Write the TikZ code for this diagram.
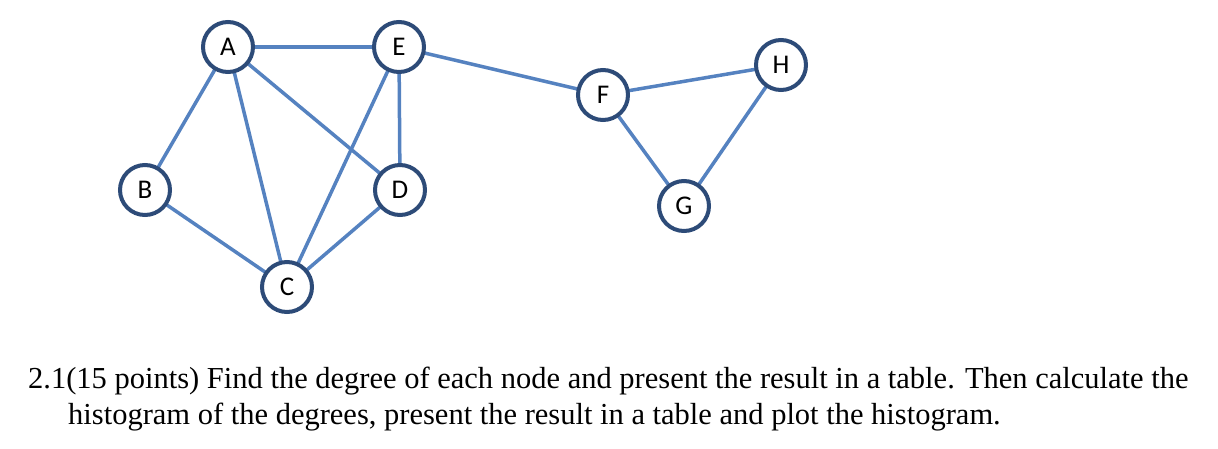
\documentclass[tikz,border=0pt]{standalone}
\usepackage{fontspec}
\setmainfont{Liberation Serif}
\newfontfamily\nodefont{Carlito}
\begin{document}
\begin{tikzpicture}[x=1pt,y=-1pt,
  vtx/.style={circle,draw=vcol,line width=4pt,fill=white,minimum size=50pt,inner sep=0pt,font=\nodefont\fontsize{27}{27}\selectfont},
  edge/.style={draw=ecol,line width=3.5pt}]
\definecolor{vcol}{HTML}{2D4B78}
\definecolor{ecol}{HTML}{5582C0}
\useasboundingbox (0,0) rectangle (1218,448);
\coordinate (A) at (228,47);
\coordinate (E) at (399,47);
\coordinate (F) at (603,95);
\coordinate (H) at (781,65);
\coordinate (B) at (145,190);
\coordinate (D) at (400,190);
\coordinate (G) at (684,206);
\coordinate (C) at (287,287);
\foreach \a/\b in {A/E,A/B,A/C,A/D,E/C,E/D,E/F,B/C,D/C,F/H,F/G,G/H}
  \draw[edge] (\a) -- (\b);
\foreach \n in {A,E,F,H,B,D,G,C}
  \node[vtx] (n\n) at (\n) {\n};
\node[anchor=base west,inner sep=0pt,font=\fontsize{30.5}{34}\selectfont] (t1) at (28,388) {2.1(15 points) Find the degree of each node and present the result in a table. Then calculate the};
\node[anchor=base west,inner sep=0pt,font=\fontsize{30.5}{34}\selectfont] (t2) at (68,424) {histogram of the degrees, present the result in a table and plot the histogram.};
\end{tikzpicture}
\end{document}
